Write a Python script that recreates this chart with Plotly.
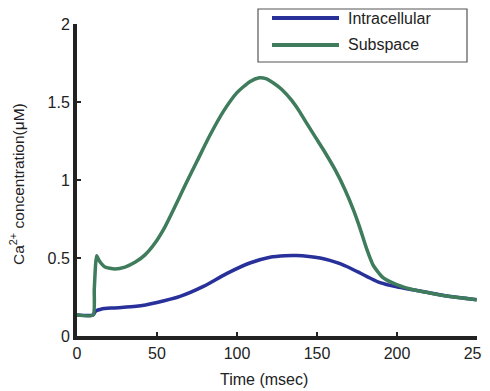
import plotly.graph_objects as go

# Time (msec) and Ca2+ concentration (uM)
t_sub = [0, 10, 10.8, 12.3, 14, 17.5, 23.75, 30, 36.25, 42.5, 48.75, 55, 61.25, 67.5, 75, 83, 91.5, 100,
         108, 114, 118, 123, 128, 134.2, 139, 143.5, 149, 154, 161.3, 167.5, 172.7, 176.9, 181, 185.2,
         191.5, 199.8, 210, 218.5, 230, 249.8]
ca_sub = [0.135, 0.135, 0.3, 0.515, 0.48, 0.442, 0.43, 0.442, 0.472, 0.52, 0.596, 0.70, 0.83, 0.965, 1.12,
          1.285, 1.44, 1.56, 1.63, 1.655, 1.65, 1.62, 1.58, 1.51, 1.44, 1.365, 1.275, 1.194, 1.066, 0.938,
          0.81, 0.69, 0.56, 0.452, 0.372, 0.329, 0.296, 0.28, 0.258, 0.233]

t_intra = [0, 10, 11, 12, 15, 22.7, 37, 50, 64.4, 79, 93.5, 108, 120.6, 130, 137, 145, 151.9, 158, 164.4,
           170.6, 176.9, 183, 189.4, 199.8, 210, 218.5, 230, 249.8]
ca_intra = [0.135, 0.135, 0.15, 0.162, 0.172, 0.18, 0.19, 0.215, 0.254, 0.318, 0.40, 0.468, 0.505, 0.515,
            0.516, 0.51, 0.50, 0.485, 0.464, 0.436, 0.404, 0.372, 0.342, 0.315, 0.296, 0.28, 0.258, 0.233]

series_names = ["Intracellular", "Subspace"]
series_colors = ["#28309a", "#3e7c5b"]

x_ticks = [0, 50, 100, 150, 200, 250]
y_ticks = [0, 0.5, 1, 1.5, 2]
y_tick_text = ["0", "0.5", "1", "1.5", "2"]
x_title = "Time (msec)"
y_title = "Ca<sup>2+</sup> concentration(μM)"

fig = go.Figure()
fig.add_trace(go.Scatter(x=t_intra, y=ca_intra, mode="lines", name=series_names[0],
                         line=dict(color=series_colors[0], width=3.5, shape="spline", smoothing=0.8),
                         showlegend=False))
fig.add_trace(go.Scatter(x=t_sub, y=ca_sub, mode="lines", name=series_names[1],
                         line=dict(color=series_colors[1], width=3.5, shape="spline", smoothing=0.6),
                         showlegend=False))

font_family = "Liberation Sans, Arial, Helvetica, sans-serif"

# page body has an 8px margin, so margins are shifted by 8px
ML, MR, MT, MB = 69, 21, 16, 55
fig.update_layout(
    width=490, height=383,
    margin=dict(l=ML, r=MR, t=MT, b=MB),
    paper_bgcolor="white", plot_bgcolor="white",
    font=dict(family=font_family, size=16, color="#222"),
    showlegend=False,
    xaxis=dict(range=[0, 250], tickvals=x_ticks, showgrid=False, zeroline=False, automargin=False,
               showline=True, linecolor="#222", linewidth=4,
               ticks="inside", ticklen=4, tickwidth=2, tickcolor="#222",
               tickfont=dict(size=16), ticklabeloverflow="allow"),
    yaxis=dict(range=[0, 2], tickvals=y_ticks, ticktext=y_tick_text, showgrid=False, zeroline=False,
               automargin=False,
               showline=True, linecolor="#222", linewidth=4,
               ticks="inside", ticklen=4, tickwidth=2, tickcolor="#222",
               tickfont=dict(size=16)),
)

# pixel -> paper helpers (window pixels, plot area 77..477 x 24..336)
def px_x(p):
    return (p - 77) / 400.0

def px_y(p):
    return (336 - p) / 312.0

# axis titles
fig.add_annotation(xref="paper", yref="paper", x=px_x(264), y=px_y(379), text=x_title,
                   showarrow=False, xanchor="center", yanchor="middle",
                   font=dict(size=16, color="#222", family=font_family))
fig.add_annotation(xref="paper", yref="paper", x=px_x(17), y=px_y(184), text=y_title,
                   showarrow=False, xanchor="center", yanchor="middle", textangle=-90,
                   font=dict(size=15.5, color="#222", family=font_family))

# legend drawn as box + sample lines + text
fig.add_shape(type="rect", xref="paper", yref="paper",
              x0=px_x(258), x1=px_x(467), y0=px_y(62), y1=px_y(9),
              line=dict(color="#555", width=1.2), fillcolor="white")
for i, (name, col) in enumerate(zip(series_names, series_colors)):
    yy = px_y(18 + i * 27)
    fig.add_shape(type="line", xref="paper", yref="paper",
                  x0=px_x(272), x1=px_x(339), y0=yy, y1=yy,
                  line=dict(color=col, width=4))
    fig.add_annotation(xref="paper", yref="paper", x=px_x(346), y=yy, text=name,
                       showarrow=False, xanchor="left", yanchor="middle",
                       font=dict(size=16, color="#222", family=font_family))

fig.write_html("out.html")
